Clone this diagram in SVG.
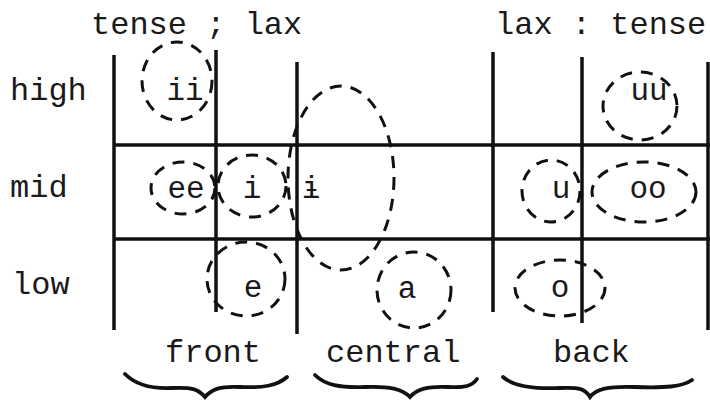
<svg xmlns="http://www.w3.org/2000/svg" width="710" height="400" viewBox="0 0 710 400">
  <style>
    .t { font-family: "Liberation Mono", "DejaVu Sans Mono", monospace; font-size: 32px; fill: #1a1a1a; }
    .v { font-family: "Liberation Mono", "DejaVu Sans Mono", monospace; font-size: 31px; fill: #1a1a1a; text-anchor: middle; }
    .grid line { stroke: #111; stroke-width: 3.5; }
    .ring { fill: none; stroke: #111; stroke-width: 3; stroke-dasharray: 12 9; }
    .brace { fill: none; stroke: #111; stroke-width: 3.8; stroke-linecap: round; }
  </style>
  <rect width="710" height="400" fill="#fff"/>

  <!-- column / row headings -->
  <g id="headings">
    <text class="t" x="91" y="34">tense ; lax</text>
    <text class="t" x="495" y="34">lax : tense</text>
    <text class="t" x="10" y="100">high</text>
    <text class="t" x="10" y="197">mid</text>
    <text class="t" x="12" y="294">low</text>
    <text class="t" x="165" y="362">front</text>
    <text class="t" x="326" y="362">central</text>
    <text class="t" x="553" y="362">back</text>
  </g>

  <!-- chart grid -->
  <g id="grid" class="grid">
    <line x1="114" y1="55" x2="114" y2="330"/>
    <line x1="216" y1="50" x2="216" y2="312"/>
    <line x1="297" y1="62" x2="297" y2="334"/>
    <line x1="493" y1="52" x2="493" y2="312"/>
    <line x1="582" y1="57" x2="582" y2="323"/>
    <line x1="708" y1="62" x2="708" y2="330" stroke-width="3"/>
    <line x1="114" y1="145" x2="710" y2="145" stroke-width="3"/>
    <line x1="114" y1="239" x2="710" y2="239" stroke-width="3"/>
  </g>

  <!-- vowels with their dashed rings -->
  <g id="v-ii">
    <ellipse class="ring" cx="177" cy="81" rx="35" ry="39"/>
    <text class="v" x="185" y="100">ii</text>
  </g>
  <g id="v-ee">
    <ellipse class="ring" cx="183" cy="188" rx="32" ry="26"/>
    <text class="v" x="186" y="198">ee</text>
  </g>
  <g id="v-i">
    <ellipse class="ring" cx="252" cy="186" rx="34" ry="31"/>
    <text class="v" x="252" y="198">i</text>
  </g>
  <g id="v-barred-i">
    <ellipse class="ring" cx="341" cy="178" rx="53" ry="92"/>
    <text class="v" x="311" y="198" font-size="26">ɨ</text>
  </g>
  <g id="v-e">
    <ellipse class="ring" cx="246" cy="279" rx="39" ry="37"/>
    <text class="v" x="253" y="297">e</text>
  </g>
  <g id="v-a">
    <ellipse class="ring" cx="414" cy="290" rx="37" ry="38"/>
    <text class="v" x="407" y="298">a</text>
  </g>
  <g id="v-uu">
    <ellipse class="ring" cx="640" cy="106" rx="37" ry="34"/>
    <text class="v" x="649" y="100">uu</text>
  </g>
  <g id="v-u">
    <ellipse class="ring" cx="551" cy="191" rx="29" ry="31"/>
    <text class="v" x="561" y="198">u</text>
  </g>
  <g id="v-oo">
    <ellipse class="ring" cx="644" cy="192" rx="52" ry="30"/>
    <text class="v" x="648" y="198">oo</text>
  </g>
  <g id="v-o">
    <ellipse class="ring" cx="560" cy="288" rx="45" ry="28"/>
    <text class="v" x="560" y="297">o</text>
  </g>

  <!-- braces under the column groups -->
  <g id="braces" class="brace">
    <path d="M125,374 C136,385 152,389 172,388 C192,387 198,389 205,397 C212,389 220,386 240,387 C262,388 277,386 287,377"/>
    <path d="M315,375 C325,385 340,388 365,387 C390,386 402,389 410,397 C417,389 428,386 448,387 C465,388 472,386 477,379"/>
    <path d="M503,377 C514,387 535,389 560,388 C580,387 585,389 590,397 C596,389 608,386 635,387 C665,388 682,387 692,380"/>
  </g>
</svg>
